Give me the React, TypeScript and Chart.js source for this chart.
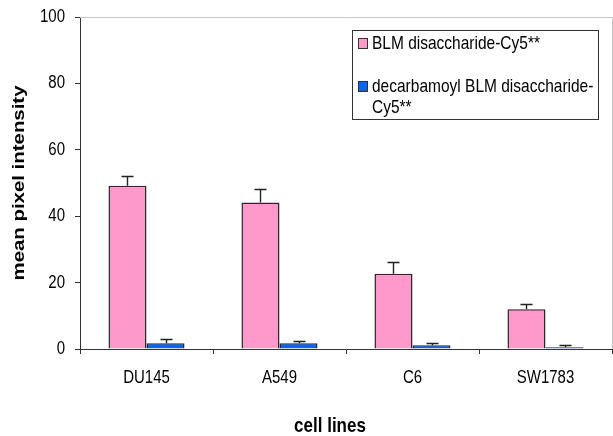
import React, { useEffect, useRef } from "react";
import { Chart, registerables } from "chart.js";

Chart.register(...registerables);

const categories = ["DU145", "A549", "C6", "SW1783"];
const blmValues = [49.2, 44.1, 22.7, 12.0];
const blmErrors = [3.0, 4.2, 3.5, 1.6];
const decarbValues = [1.7, 1.7, 1.1, 0.5];
const decarbErrors = [1.3, 0.7, 0.6, 0.7];
const seriesNames = ["BLM disaccharide-Cy5**", "decarbamoyl BLM disaccharide-Cy5**"];
const legendLines = [["BLM disaccharide-Cy5**"], ["decarbamoyl BLM disaccharide-", "Cy5**"]];
const yTicks = [0, 20, 40, 60, 80, 100];
const yTitle = "mean pixel intensity";
const xTitle = "cell lines";

const PINK = "#FF99CC";
const BLUE = "#0A66F2";
const FONT = "'Liberation Sans', Arial, sans-serif";
const STRETCH = 1.2;

const errorsBySeries = [blmErrors, decarbErrors];
const valuesBySeries = [blmValues, decarbValues];

function stretchedText(ctx: any, text: string, x: number, y: number) {
  ctx.save();
  ctx.translate(x, y);
  ctx.scale(1, STRETCH);
  ctx.fillText(text, 0, 0);
  ctx.restore();
}

const decorPlugin = {
  id: "decor",
  beforeDatasetsDraw(chart: any) {
    const { ctx, chartArea } = chart;
    ctx.save();
    ctx.strokeStyle = "#c4c4c4";
    ctx.lineWidth = 1;
    ctx.beginPath();
    ctx.moveTo(chartArea.left, chartArea.top + 0.5);
    ctx.lineTo(chartArea.right + 0.5, chartArea.top + 0.5);
    ctx.lineTo(chartArea.right + 0.5, chartArea.bottom);
    ctx.stroke();
    ctx.restore();
  },
  afterDatasetsDraw(chart: any) {
    const { ctx } = chart;
    const yScale = chart.scales.y;
    ctx.save();
    ctx.strokeStyle = "#222";
    ctx.lineWidth = 1.4;
    chart.data.datasets.forEach((ds: any, di: number) => {
      const meta = chart.getDatasetMeta(di);
      meta.data.forEach((bar: any, i: number) => {
        const v = valuesBySeries[di][i];
        const e = errorsBySeries[di][i];
        const x = Math.round(bar.x) + 0.5;
        const y0 = yScale.getPixelForValue(v);
        const y1 = Math.round(yScale.getPixelForValue(v + e)) + 0.5;
        ctx.beginPath();
        ctx.moveTo(x, y0);
        ctx.lineTo(x, y1);
        ctx.moveTo(x - 6, y1);
        ctx.lineTo(x + 6, y1);
        ctx.stroke();
      });
    });
    ctx.restore();
  },
  afterDraw(chart: any) {
    const { ctx, chartArea } = chart;
    const xScale = chart.scales.x;
    const yScale = chart.scales.y;
    ctx.save();
    ctx.fillStyle = "#000";
    // tick labels
    ctx.font = `15px ${FONT}`;
    ctx.textBaseline = "middle";
    ctx.textAlign = "right";
    yTicks.forEach((v) => {
      stretchedText(ctx, String(v), chartArea.left - 15, yScale.getPixelForValue(v));
    });
    ctx.textAlign = "center";
    categories.forEach((c, i) => {
      stretchedText(ctx, c, xScale.getPixelForValue(i), chartArea.bottom + 29);
    });
    // y title
    ctx.font = `bold 17px ${FONT}`;
    ctx.save();
    ctx.translate(19, (chartArea.top + chartArea.bottom) / 2);
    ctx.rotate(-Math.PI / 2);
    ctx.scale(STRETCH, 1);
    ctx.fillText(yTitle, 0, 0);
    ctx.restore();
    // x title
    stretchedText(ctx, xTitle, 330, 426);
    // legend
    const bx = 352.5, by = 30.5, bw = 246, bh = 89;
    ctx.strokeStyle = "#333";
    ctx.lineWidth = 1;
    ctx.fillStyle = "#fff";
    ctx.fillRect(bx, by, bw, bh);
    ctx.strokeRect(bx, by, bw, bh);
    const colors = [PINK, BLUE];
    const rowY = [44, 87];
    ctx.font = `15.5px ${FONT}`;
    ctx.textAlign = "left";
    legendLines.forEach((lines, i) => {
      ctx.fillStyle = colors[i];
      ctx.fillRect(358.5, rowY[i] - 5.5, 9, 10);
      ctx.strokeStyle = "#333";
      ctx.strokeRect(358.5, rowY[i] - 5.5, 9, 10);
      ctx.fillStyle = "#000";
      lines.forEach((t, j) => {
        stretchedText(ctx, t, 372, rowY[i] + j * 20.5);
      });
    });
    ctx.restore();
  },
};

export default function App() {
  const ref = useRef<HTMLCanvasElement>(null);
  useEffect(() => {
    if (!ref.current) return;
    const chart = new Chart(ref.current, {
      type: "bar",
      data: {
        labels: categories,
        datasets: [
          {
            label: seriesNames[0],
            data: blmValues,
            backgroundColor: PINK,
            borderColor: "#2a2a2a",
            borderWidth: 1.5,
            categoryPercentage: 0.572,
            barPercentage: 1,
          },
          {
            label: seriesNames[1],
            data: decarbValues,
            backgroundColor: BLUE,
            borderColor: "#2a2a2a",
            borderWidth: 1.5,
            categoryPercentage: 0.572,
            barPercentage: 1,
          },
        ],
      },
      options: {
        responsive: false,
        animation: false,
        layout: { padding: { top: 17, right: 1, left: 0, bottom: 0 } },
        plugins: { legend: { display: false }, tooltip: { enabled: false } },
        scales: {
          x: {
            afterFit: (s: any) => {
              s.height = 87;
            },
            grid: { offset: true, drawOnChartArea: false, tickLength: 5, color: "#333" },
            border: { color: "#333", width: 1 },
            ticks: { display: false },
          },
          y: {
            min: 0,
            max: 100,
            afterFit: (s: any) => {
              s.width = 80;
            },
            afterBuildTicks: (s: any) => {
              s.ticks = yTicks.map((v) => ({ value: v }));
            },
            grid: { drawOnChartArea: false, tickLength: 5, color: "#333" },
            border: { color: "#333", width: 1 },
            ticks: { display: false },
          },
        },
      },
      plugins: [decorPlugin],
    });
    return () => chart.destroy();
  }, []);
  return (
    <div style={{ position: "fixed", left: 0, top: 0, width: 613, height: 436, background: "#fff" }}>
      <canvas ref={ref} width={613} height={436} style={{ display: "block" }} />
    </div>
  );
}
